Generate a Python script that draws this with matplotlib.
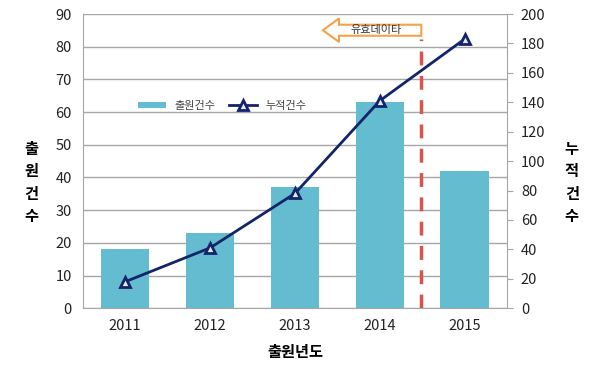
import matplotlib.pyplot as plt
from matplotlib.patches import FancyArrow
import numpy as np

plt.rcParams['font.family'] = ['Noto Sans CJK KR', 'DejaVu Sans']

years = ['2011', '2012', '2013', '2014', '2015']
filings = [18, 23, 37, 63, 42]
cumulative = [18, 41, 78, 141, 183]

bar_color = '#63bcd0'
line_color = '#14246b'
grid_color = '#a6a6a6'

fig = plt.figure(figsize=(6, 3.8), dpi=100)
ax = fig.add_axes([0.138, 0.189, 0.707, 0.774])
x = np.arange(len(years))

bars = ax.bar(x, filings, width=0.57, color=bar_color, label='출원건수', zorder=2)
ax.set_xlim(-0.5, 4.5)
ax.set_ylim(0, 90)
ax.set_yticks(range(0, 91, 10))
ax.set_xticks(x)
ax.set_xticklabels(years)
ax.grid(axis='y', color=grid_color, lw=1, zorder=0)
ax.tick_params(axis='both', length=0, labelsize=10.5, colors='#222222', pad=8)
ax.tick_params(axis='x', pad=8)
for s in ['top', 'right']:
    ax.spines[s].set_visible(False)
for s in ['left', 'bottom']:
    ax.spines[s].set_color(grid_color)

ax2 = ax.twinx()
line, = ax2.plot(x, cumulative, color=line_color, lw=2, marker='^', markersize=7,
                 markerfacecolor='#e4eaec', markeredgecolor=line_color, markeredgewidth=2,
                 label='누적건수', zorder=3)
ax2.set_ylim(0, 200)
ax2.set_yticks(range(0, 201, 20))
ax2.tick_params(axis='y', direction='out', length=4, labelsize=10.5,
                colors='#222222', pad=6)
ax2.tick_params(axis='y', color=grid_color)
for s in ['top', 'left', 'bottom']:
    ax2.spines[s].set_visible(False)
ax2.spines['right'].set_color(grid_color)

# dashed boundary of valid data
ax2.plot([3.49, 3.49], [0, 183], color='#d9534f', lw=2.5, ls=(0, (4, 3)), zorder=4)
ax2.add_patch(FancyArrow(3.49, 189, -1.16, 0, width=7.5, head_width=16, head_length=0.19,
                         length_includes_head=True, facecolor='white', edgecolor='#f5a14a',
                         lw=1.5, zorder=5))
ax2.text(2.96, 189, '유효데이타', fontsize=8, ha='center', va='center', color='#333333', zorder=6)

ax.legend([bars, line], ['출원건수', '누적건수'], loc='upper left', bbox_to_anchor=(0.12, 0.72),
          ncol=2, frameon=False, fontsize=8, handlelength=2.5, columnspacing=1.2,
          handleheight=0.5, borderaxespad=0, labelcolor='#444444')

ax.set_xlabel('출원년도', fontsize=11, fontweight='bold', labelpad=8)
fig.text(0.052, 0.52, '출\n원\n건\n수', fontsize=11, fontweight='bold', ha='center', va='center',
         linespacing=1.5)
fig.text(0.953, 0.52, '누\n적\n건\n수', fontsize=11, fontweight='bold', ha='center', va='center',
         linespacing=1.5)

fig.savefig('out.png', dpi=100)
